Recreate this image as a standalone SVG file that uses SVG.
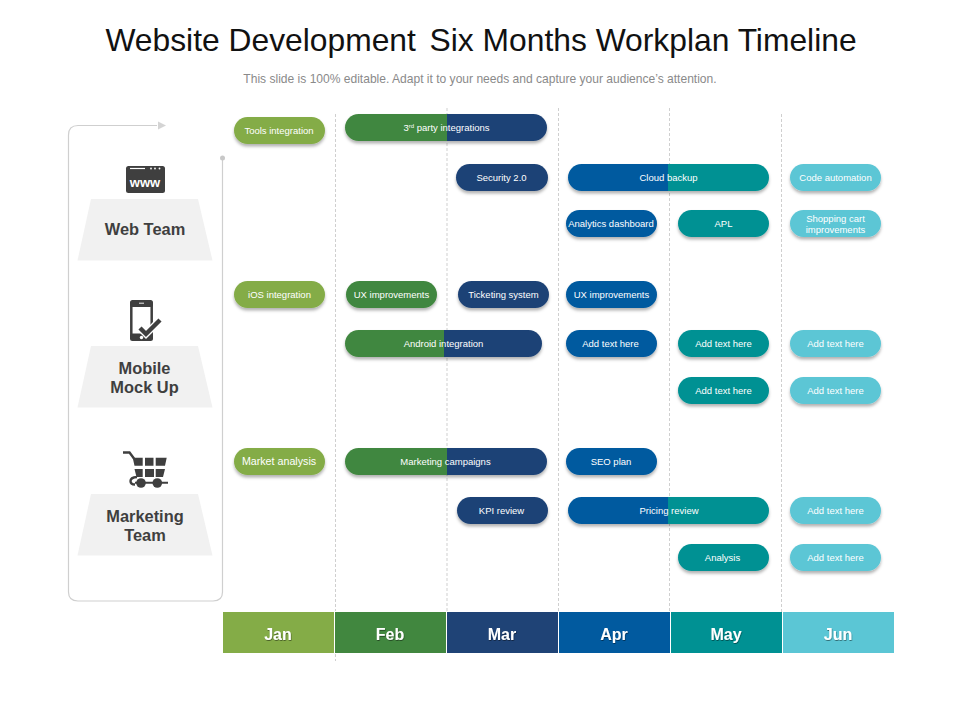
<svg xmlns="http://www.w3.org/2000/svg" width="960" height="720" viewBox="0 0 960 720">
<style>
text{font-family:"Liberation Sans",Arial,sans-serif}
.t{font-size:31.8px;fill:#111;text-anchor:middle;white-space:pre}
.s{font-size:12.05px;fill:#8a8a8a;text-anchor:middle}
.team{font-size:16.4px;font-weight:bold;fill:#3f3f3f;text-anchor:middle}
.p{font-size:9.5px;fill:#fff;text-anchor:middle}
.pill{filter:url(#sh)}
.lg{fill:#84ac47}.gr{fill:#41873f}.na{fill:#1f4376}.bl{fill:#015a9f}.te{fill:#009193}.cy{fill:#5bc6d5}
.gn{fill:url(#gn)}.bt{fill:url(#bt)}
.m{font-size:16px;font-weight:bold;fill:#fff;text-anchor:middle;filter:url(#ts)}
.grid{stroke:#cfcfcf;stroke-width:1;stroke-dasharray:3 2;fill:none}
.frame{stroke:#cfcfcf;stroke-width:1.2;fill:none}
.trap{fill:#f1f1f1}
.ic{fill:#3f3f3f}
</style>
<defs>
<filter id="sh" x="-10%" y="-20%" width="120%" height="160%"><feDropShadow dx="0" dy="2.5" stdDeviation="1.8" flood-color="#000" flood-opacity="0.3"/></filter>
<filter id="ts" x="-20%" y="-20%" width="140%" height="150%"><feDropShadow dx="0.5" dy="1" stdDeviation="0.7" flood-color="#000" flood-opacity="0.45"/></filter>
<linearGradient id="gn"><stop offset="0.505" stop-color="#41873f"/><stop offset="0.505" stop-color="#1f4376"/></linearGradient>
<linearGradient id="bt"><stop offset="0.498" stop-color="#015a9f"/><stop offset="0.498" stop-color="#009193"/></linearGradient>
<polygon id="trap" class="trap" points="91,0 198,0 212.500,61.500 77.500,61.500"/>
</defs>
<text class="t" x="481" y="51">Website Development  <tspan dx="-4">Six Months Workplan Timeline</tspan></text>
<text class="s" x="480" y="83">This slide is 100% editable. Adapt it to your needs and capture your audience’s attention.</text>

<g id="connectors">
<path class="grid" d="M335.500 114V611M335.500 654V661M447 108V612M558.500 108V612M669.500 108V612M781.500 114V612"/>
<path class="frame" d="M157 125.500H78Q68.500 125.500 68.500 135V592Q68.500 601 78 601H213Q222.500 601 222.500 592V158"/>
<polygon points="158,121.500 166,125.500 158,129.500" fill="#d4d4d4"/>
<circle cx="222.500" cy="158" r="2.500" fill="#c8c8c8"/>
</g>

<g id="team-web">
<rect class="ic" x="126" y="166" width="39" height="27" rx="2.500"/>
<path d="M130 168.500H145" stroke="#fff" stroke-width="1.200"/>
<circle cx="151" cy="168.500" r="0.900" fill="#fff"/><circle cx="155" cy="168.500" r="0.900" fill="#fff"/><circle cx="159.500" cy="168.500" r="0.900" fill="#fff"/>
<text x="145" y="186.500" font-size="13" font-weight="bold" fill="#fff" text-anchor="middle">www</text>
<use href="#trap" y="199"/>
<text class="team" x="145" y="235">Web Team</text>
</g>
<g id="team-mobile">
<rect x="131.300" y="301.300" width="20.400" height="38.400" rx="3" fill="none" stroke="#3f3f3f" stroke-width="2.500"/>
<rect class="ic" x="130" y="300" width="23" height="7" rx="2.500"/>
<rect class="ic" x="130" y="333.500" width="23" height="7.500" rx="2.500"/>
<path d="M139 303.200H144" stroke="#fff" stroke-width="0.900"/>
<circle cx="141.500" cy="337.500" r="1.700" fill="#fff"/>
<path d="M140 328L146 334L160 320" fill="none" stroke="#fff" stroke-width="7"/>
<path d="M140 328L146 334L160 320" fill="none" stroke="#3f3f3f" stroke-width="4.400"/>
<use href="#trap" y="346"/>
<text class="team" x="144.500" y="374">Mobile</text>
<text class="team" x="144.500" y="393">Mock Up</text>
</g>
<g id="team-marketing">
<path d="M123 452.500H129.500L134 458.500" fill="none" stroke="#3f3f3f" stroke-width="2.400"/>
<path class="ic" d="M132.700 457.700H142.700V465.700H134.500ZM145 457.700H153.500V465.700H145ZM155.700 457.700H166.700L165 465.700H155.700ZM134.500 469H142.700V477H136.500ZM145 469H154V477H145ZM155.700 469H165L163 477H155.700Z"/>
<path d="M135 482.700H168" stroke="#3f3f3f" stroke-width="2"/>
<path d="M137 477Q130.500 477.500 130.500 481Q130.500 484.500 135 484.500" fill="none" stroke="#3f3f3f" stroke-width="2.400"/>
<circle class="ic" cx="141" cy="483" r="4.800"/><circle class="ic" cx="157.300" cy="483" r="4.800"/>
<use href="#trap" y="494"/>
<text class="team" x="145" y="522">Marketing</text>
<text class="team" x="145" y="541">Team</text>
</g>

<g id="bar-tools"><rect class="pill lg" x="234" y="117" width="91" height="27" rx="13.500"/><text class="p" x="279" y="134">Tools integration</text></g>
<g id="bar-3rd"><rect class="pill gn" x="345" y="114" width="202" height="27" rx="13.500"/><text class="p" x="446.500" y="131">3<tspan font-size="6" dy="-3">rd</tspan><tspan dy="3"> party integrations</tspan></text></g>
<g id="bar-security"><rect class="pill na" x="456" y="164" width="92" height="27" rx="13.500"/><text class="p" x="501.500" y="181">Security 2.0</text></g>
<g id="bar-cloud"><rect class="pill bt" x="568" y="164" width="201" height="27" rx="13.500"/><text class="p" x="668.500" y="181">Cloud backup</text></g>
<g id="bar-code"><rect class="pill cy" x="790" y="164" width="91" height="27" rx="13.500"/><text class="p" x="835.500" y="181">Code automation</text></g>
<g id="bar-analytics"><rect class="pill bl" x="566" y="210" width="91" height="27" rx="13.500"/><text class="p" x="611" y="227">Analytics dashboard</text></g>
<g id="bar-apl"><rect class="pill te" x="678" y="210" width="91" height="27" rx="13.500"/><text class="p" x="723.500" y="227">APL</text></g>
<g id="bar-shopping"><rect class="pill cy" x="790" y="210" width="91" height="27" rx="13.500"/><text class="p" x="835.500" y="222">Shopping cart</text><text class="p" x="835.500" y="233">improvements</text></g>

<g id="bar-ios"><rect class="pill lg" x="234" y="281" width="91" height="27" rx="13.500"/><text class="p" x="279.500" y="298">iOS integration</text></g>
<g id="bar-ux1"><rect class="pill gr" x="346" y="281" width="91" height="27" rx="13.500"/><text class="p" x="391.500" y="298">UX improvements</text></g>
<g id="bar-ticketing"><rect class="pill na" x="458" y="281" width="91" height="27" rx="13.500"/><text class="p" x="503.500" y="298">Ticketing system</text></g>
<g id="bar-ux2"><rect class="pill bl" x="566" y="281" width="91" height="27" rx="13.500"/><text class="p" x="611.500" y="298">UX improvements</text></g>
<g id="bar-android"><rect class="pill gn" x="345" y="330" width="197" height="27" rx="13.500"/><text class="p" x="443.500" y="347">Android integration</text></g>
<g id="bar-m1"><rect class="pill bl" x="566" y="330" width="91" height="27" rx="13.500"/><text class="p" x="610.500" y="347">Add text here</text></g>
<g id="bar-m2"><rect class="pill te" x="678" y="330" width="91" height="27" rx="13.500"/><text class="p" x="723.500" y="347">Add text here</text></g>
<g id="bar-m3"><rect class="pill cy" x="790" y="330" width="91" height="27" rx="13.500"/><text class="p" x="835.500" y="347">Add text here</text></g>
<g id="bar-m4"><rect class="pill te" x="678" y="377" width="91" height="27" rx="13.500"/><text class="p" x="723.500" y="394">Add text here</text></g>
<g id="bar-m5"><rect class="pill cy" x="790" y="377" width="91" height="27" rx="13.500"/><text class="p" x="835.500" y="394">Add text here</text></g>

<g id="bar-market"><rect class="pill lg" x="234" y="448" width="91" height="27" rx="13.500"/><text class="p" x="279" y="465" style="font-size:10.700px">Market analysis</text></g>
<g id="bar-campaigns"><rect class="pill gn" x="345" y="448" width="202" height="27" rx="13.500"/><text class="p" x="445.500" y="465">Marketing campaigns</text></g>
<g id="bar-seo"><rect class="pill bl" x="566" y="448" width="91" height="27" rx="13.500"/><text class="p" x="611" y="465">SEO plan</text></g>
<g id="bar-kpi"><rect class="pill na" x="457" y="497" width="91" height="27" rx="13.500"/><text class="p" x="501.500" y="514">KPI review</text></g>
<g id="bar-pricing"><rect class="pill bt" x="568" y="497" width="201" height="27" rx="13.500"/><text class="p" x="669" y="514">Pricing review</text></g>
<g id="bar-m6"><rect class="pill cy" x="790" y="497" width="91" height="27" rx="13.500"/><text class="p" x="835.500" y="514">Add text here</text></g>
<g id="bar-analysis"><rect class="pill te" x="678" y="544" width="91" height="27" rx="13.500"/><text class="p" x="722.500" y="561">Analysis</text></g>
<g id="bar-m7"><rect class="pill cy" x="790" y="544" width="91" height="27" rx="13.500"/><text class="p" x="835.500" y="561">Add text here</text></g>

<g id="months">
<rect class="lg" x="223" y="612" width="111" height="41"/><text class="m" x="278" y="640">Jan</text>
<rect class="gr" x="335" y="612" width="111" height="41"/><text class="m" x="390" y="640">Feb</text>
<rect class="na" x="447" y="612" width="111" height="41"/><text class="m" x="502" y="640">Mar</text>
<rect class="bl" x="559" y="612" width="111" height="41"/><text class="m" x="614" y="640">Apr</text>
<rect class="te" x="671" y="612" width="111" height="41"/><text class="m" x="726" y="640">May</text>
<rect class="cy" x="783" y="612" width="111" height="41"/><text class="m" x="838" y="640">Jun</text>
</g>
</svg>
